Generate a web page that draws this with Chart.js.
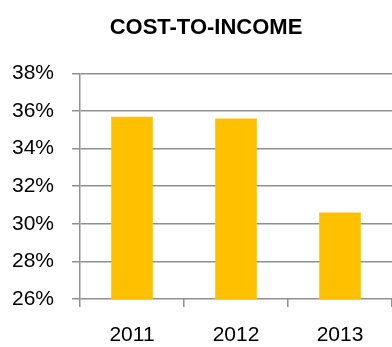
<!DOCTYPE html>
<html lang="en">
<head>
    <meta charset="UTF-8">
    <title>Cost-to-Income</title>
    <script src="https://cdn.jsdelivr.net/npm/chart.js"></script>
    <style>
        html, body { margin: 0; padding: 0; background: #fff; }
        #wrap { width: 392px; height: 347px; }
    </style>
</head>
<body>
    <div id="wrap"><canvas id="costChart"></canvas></div>

    <script>
        // values (percent)
        const years = ['2011', '2012', '2013'];
        const costToIncome = [35.7, 35.6, 30.6];

        const gridGrey = '#909090';
        const font = 'Liberation Sans, Arial, sans-serif';

        // title in the original sits a bit right of the canvas centre
        const shiftTitle = {
            id: 'shiftTitle',
            afterLayout(chart) {
                if (chart.titleBlock) chart.titleBlock.left += 20;
            }
        };

        const ctx = document.getElementById('costChart').getContext('2d');
        const costChart = new Chart(ctx, {
            type: 'bar',
            data: {
                labels: years,
                datasets: [{
                    label: 'Cost-to-income',
                    data: costToIncome,
                    backgroundColor: '#FFC000',
                    borderWidth: 0,
                    categoryPercentage: 1,
                    barPercentage: 0.4
                }]
            },
            options: {
                responsive: true,
                maintainAspectRatio: false,
                animation: false,
                layout: { padding: 0 },
                plugins: {
                    legend: { display: false },
                    tooltip: { enabled: false },
                    title: {
                        display: true,
                        text: 'COST-TO-INCOME',
                        color: '#000',
                        font: { family: font, size: 22, weight: 'bold' },
                        padding: { top: 15, bottom: 32 }
                    }
                },
                scales: {
                    x: {
                        afterFit: (scale) => { scale.height = 48; },
                        grid: {
                            display: true,
                            drawOnChartArea: false,
                            tickLength: 8,
                            color: gridGrey,
                            lineWidth: 1.5,
                            offset: true
                        },
                        border: { display: false },
                        ticks: {
                            color: '#000',
                            padding: 16,
                            font: { family: font, size: 21 }
                        }
                    },
                    y: {
                        min: 26,
                        max: 38,
                        afterFit: (scale) => { scale.width = 80; },
                        grid: {
                            color: gridGrey,
                            lineWidth: 1.5,
                            tickLength: 8
                        },
                        border: { display: true, color: gridGrey, width: 1.5 },
                        ticks: {
                            stepSize: 2,
                            color: '#000',
                            padding: 18,
                            font: { family: font, size: 21 },
                            callback: (v) => v + '%'
                        }
                    }
                }
            },
            plugins: [shiftTitle]
        });
    </script>
</body>
</html>
